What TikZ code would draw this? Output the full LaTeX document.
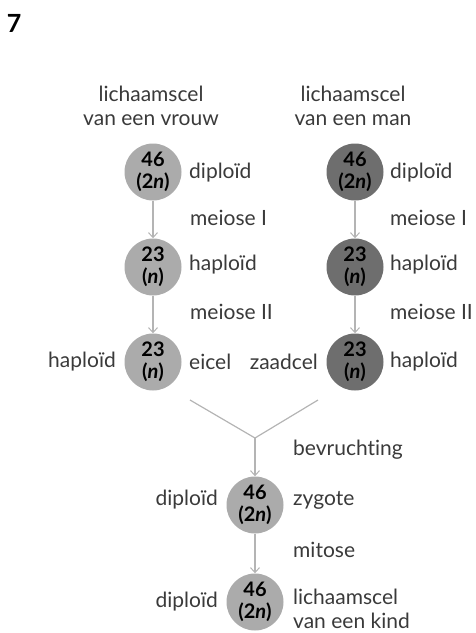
\documentclass[tikz,border=0pt]{standalone}
\usepackage{fontspec}
\setmainfont{Lato}[Ligatures={NoCommon}]
\usetikzlibrary{arrows.meta}
\definecolor{txt}{HTML}{3A3A3A}
\definecolor{fem}{HTML}{ABABAB}
\definecolor{mal}{HTML}{6E6E6E}
\definecolor{arr}{HTML}{B4B4B4}
\tikzset{
  cell/.style={circle, minimum size=57pt, inner sep=0pt, align=center,
    font=\fontsize{20}{22}\selectfont\bfseries, text=black},
  femcell/.style={cell, fill=fem},
  malcell/.style={cell, fill=mal},
  lbl/.style={text=txt, font=\fontsize{21}{24}\selectfont, inner sep=0pt},
  conn/.style={draw=arr, line width=1.2pt},
  arrowc/.style={conn, -{Straight Barb[length=5pt,width=9pt,line width=1pt]}}
}
\newcommand{\chr}[2]{#1\\(#2)}
\begin{document}
\begin{tikzpicture}[x=1pt,y=-1pt]
\useasboundingbox (0,0) rectangle (475,633);
\node[font=\fontsize{25}{25}\selectfont\bfseries, inner sep=0pt] (num) at (14,23) {7};
% headers
\node[lbl, align=center] (hf) at (151,106) {lichaamscel\\van een vrouw};
\node[lbl, align=center] (hm) at (353,106) {lichaamscel\\van een man};
% female column
\node[femcell] (f1) at (153,172) {\chr{46}{2\textit{n}}};
\node[femcell] (f2) at (153,267) {\chr{23}{\textit{n}}};
\node[femcell] (f3) at (153,362) {\chr{23}{\textit{n}}};
% male column
\node[malcell] (m1) at (355,172) {\chr{46}{2\textit{n}}};
\node[malcell] (m2) at (355,267) {\chr{23}{\textit{n}}};
\node[malcell] (m3) at (355,362) {\chr{23}{\textit{n}}};
% child
\node[femcell] (z) at (255,505) {\chr{46}{2\textit{n}}};
\node[femcell] (k) at (255,602) {\chr{46}{2\textit{n}}};
% labels female
\node[lbl, anchor=west] (fl1) at (189,173) {diploïd};
\node[lbl, anchor=west] (fl2) at (190,218) {meiose I};
\node[lbl, anchor=west] (fl3) at (189,265) {haploïd};
\node[lbl, anchor=west] (fl4) at (190,312) {meiose II};
\node[lbl, anchor=west] (fl5) at (189,362) {eicel};
\node[lbl, anchor=east] (fl6) at (116,362) {haploïd};
% labels male
\node[lbl, anchor=west] (ml1) at (390,173) {diploïd};
\node[lbl, anchor=west] (ml2) at (390,218) {meiose I};
\node[lbl, anchor=west] (ml3) at (390,265) {haploïd};
\node[lbl, anchor=west] (ml4) at (390,312) {meiose II};
\node[lbl, anchor=west] (ml5) at (390,362) {haploïd};
\node[lbl, anchor=east] (ml6) at (318,362) {zaadcel};
% labels child
\node[lbl, anchor=west] (bv) at (293,450) {bevruchting};
\node[lbl, anchor=east] (zl) at (218,500) {diploïd};
\node[lbl, anchor=west] (zr) at (293,500) {zygote};
\node[lbl, anchor=west] (mi) at (293,550) {mitose};
\node[lbl, anchor=east] (kl) at (218,602) {diploïd};
\node[lbl, anchor=west, align=left] (kr) at (293,609) {lichaamscel\\van een kind};
% connectors
\draw[arrowc] (f1) -- (f2);
\draw[arrowc] (f2) -- (f3);
\draw[arrowc] (m1) -- (m2);
\draw[arrowc] (m2) -- (m3);
\coordinate (vl) at (190,400);
\coordinate (vr) at (318,400);
\coordinate (vj) at (255,438);
\draw[conn] (vl) -- (vj) -- (vr);
\draw[arrowc] (vj) -- (z);
\draw[arrowc] (z) -- (k);
\end{tikzpicture}
\end{document}
